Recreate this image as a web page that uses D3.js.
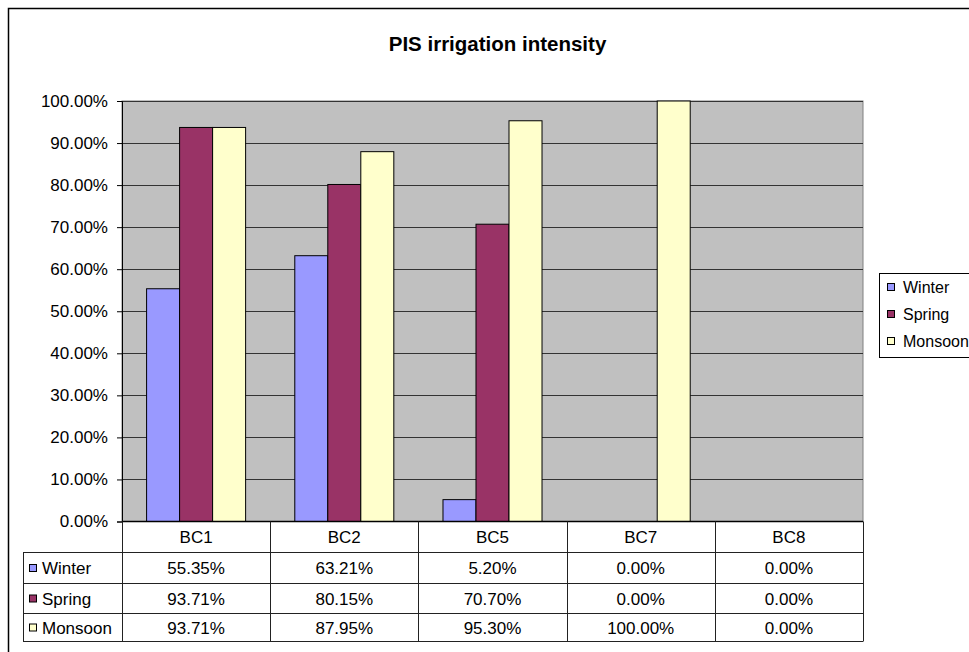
<!DOCTYPE html>
<html><head><meta charset="utf-8">
<script src="https://cdn.jsdelivr.net/npm/d3@7"></script>
<style>
html,body{margin:0;padding:0;background:#fff;}
svg{display:block;font-family:"Liberation Sans",Arial,sans-serif;}
</style></head>
<body>
<svg id="c" width="969" height="652"></svg>
<script>
const categories = ["BC1","BC2","BC5","BC7","BC8"];
const seriesNames = ["Winter","Spring","Monsoon"];
const winter = [0.5535,0.6321,0.0520,0.0,0.0];
const spring = [0.9371,0.8015,0.7070,0.0,0.0];
const monsoon = [0.9371,0.8795,0.9530,1.0,0.0];
const colors = ["#9999ff","#993366","#ffffcc"];
const yTicks = [0,0.1,0.2,0.3,0.4,0.5,0.6,0.7,0.8,0.9,1.0];
const title = "PIS irrigation intensity";

const seriesValues = [winter, spring, monsoon];
const svg = d3.select("#c");

// outer chart border (only top/left visible)
svg.append("rect").attr("x",8.5).attr("y",8.5).attr("width",1000).attr("height",1000)
  .attr("fill","#fff").attr("stroke","#000").attr("stroke-width",1.5);

svg.append("text").attr("x",497.5).attr("y",50.5).attr("text-anchor","middle")
  .attr("font-size",20.5).attr("font-weight","bold").text(title);

const L=122, R=863, T=101, B=521.5;
const x = d3.scaleBand().domain(categories).range([L,R]).paddingInner(0).paddingOuter(0);
const xs = d3.scaleBand().domain(seriesNames).range([0,x.bandwidth()]).paddingInner(0).paddingOuter(0.745);
const y = d3.scaleLinear().domain([0,1]).range([B,T]);

svg.append("rect").attr("x",L).attr("y",T).attr("width",R-L).attr("height",B-T)
  .attr("fill","#c0c0c0").attr("stroke","#808080").attr("stroke-width",1);

// gridlines
svg.append("g").selectAll("line").data(yTicks.filter(d=>d>0)).join("line")
  .attr("x1",L).attr("x2",R).attr("y1",d=>Math.round(y(d))+0.5).attr("y2",d=>Math.round(y(d))+0.5)
  .attr("stroke","#333").attr("stroke-width",1);

// bars
const bars = [];
categories.forEach((c,i)=>seriesNames.forEach((s,j)=>{ if(seriesValues[j][i]>0) bars.push({c,s,j,v:seriesValues[j][i]}); }));
svg.append("g").selectAll("rect").data(bars).join("rect")
  .attr("x",d=>x(d.c)+xs(d.s)).attr("width",xs.bandwidth())
  .attr("y",d=>y(d.v)).attr("height",d=>B-y(d.v))
  .attr("fill",d=>colors[d.j]).attr("stroke","#000").attr("stroke-width",1);

// y axis
const yAxis = d3.axisLeft(y).tickValues(yTicks).tickSize(5).tickPadding(9).tickFormat(d=>d3.format(".2f")(d*100)+"%");
const ga = svg.append("g").attr("transform",`translate(${L},0)`).call(yAxis);
ga.select(".domain").attr("stroke","#000");
ga.selectAll(".tick line").attr("stroke","#000");
ga.selectAll("text").attr("font-size",17).attr("fill","#000").attr("font-family","Liberation Sans, Arial, sans-serif");

// data table
const TL = 23;
const rowY = [521.5, 552.5, 583.5, 613.5, 641.5];
const tg = svg.append("g");
tg.append("line").attr("x1",L).attr("x2",R).attr("y1",rowY[0]).attr("y2",rowY[0]).attr("stroke","#000").attr("stroke-width",1.5);
rowY.slice(1).forEach(yy=>tg.append("line").attr("x1",TL).attr("x2",R).attr("y1",yy).attr("y2",yy).attr("stroke","#222"));
tg.append("line").attr("x1",TL+0.5).attr("x2",TL+0.5).attr("y1",rowY[1]).attr("y2",rowY[4]).attr("stroke","#222");
[...categories.map(c=>x(c)), R].forEach(xx=>tg.append("line").attr("x1",Math.round(xx)+0.5).attr("x2",Math.round(xx)+0.5)
  .attr("y1",rowY[0]).attr("y2",rowY[4]).attr("stroke","#222"));
tg.selectAll("text.cat").data(categories).join("text").attr("class","cat")
  .attr("x",d=>x(d)+x.bandwidth()/2).attr("y",(rowY[0]+rowY[1])/2+6).attr("text-anchor","middle")
  .attr("font-size",17).text(d=>d);
seriesNames.forEach((s,j)=>{
  const cy = (rowY[j+1]+rowY[j+2])/2;
  tg.append("rect").attr("x",29.5).attr("y",cy-3.5).attr("width",7).attr("height",7)
    .attr("fill",colors[j]).attr("stroke","#000").attr("stroke-width",1);
  tg.append("text").attr("x",42).attr("y",cy+6).attr("font-size",17).text(s);
  tg.selectAll(null).data(categories).join("text")
    .attr("x",d=>x(d)+x.bandwidth()/2).attr("y",cy+6).attr("text-anchor","middle")
    .attr("font-size",17).text((d,i)=>d3.format(".2f")(seriesValues[j][i]*100)+"%");
});

// legend
const lg = svg.append("g");
lg.append("rect").attr("x",879.5).attr("y",273.5).attr("width",120).attr("height",84)
  .attr("fill","#fff").attr("stroke","#000").attr("stroke-width",1);
seriesNames.forEach((s,j)=>{
  const cy = 287 + j*27;
  lg.append("rect").attr("x",887.5).attr("y",cy-3.5).attr("width",7).attr("height",7)
    .attr("fill",colors[j]).attr("stroke","#000");
  lg.append("text").attr("x",903).attr("y",cy+5.5).attr("font-size",16).text(s);
});
</script>
</body></html>
